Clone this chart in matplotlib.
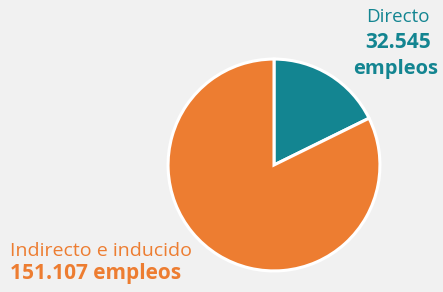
import matplotlib
matplotlib.use("Agg")
import matplotlib.pyplot as plt

categories = ["Directo", "Indirecto e inducido"]
values = [32545, 151107]
value_labels = ["32.545", "151.107"]
colors = ["#138591", "#ed7d31"]

W, H = 443, 292
fig = plt.figure(figsize=(W / 100, H / 100), dpi=100)
fig.patch.set_facecolor("#f1f1f1")

ax = fig.add_axes([167 / W, (H - 272) / H, 214 / W, 214 / H])
ax.pie(values, colors=colors, startangle=90, counterclock=False,
       wedgeprops=dict(edgecolor="white", linewidth=2.2))
ax.set_xlim(-1.01, 1.01)
ax.set_ylim(-1.01, 1.01)
ax.set_aspect("equal")
ax.set_axis_off()

fam = ["Open Sans", "DejaVu Sans"]

def px(x, y):
    return x / W, 1 - y / H

fig.text(*px(430, 17), categories[0], ha="right", va="center",
         fontsize=13.5, color=colors[0], family=fam)
fig.text(*px(431, 43), value_labels[0], ha="right", va="center",
         fontsize=15, fontweight="bold", color=colors[0], family=fam)
fig.text(*px(438, 69), "empleos", ha="right", va="center",
         fontsize=14.5, fontweight="bold", color=colors[0], family=fam)

fig.text(*px(10, 251), categories[1], ha="left", va="center",
         fontsize=14, color=colors[1], family=fam)
fig.text(*px(10, 274), value_labels[1] + " empleos", ha="left", va="center",
         fontsize=15, fontweight="bold", color=colors[1], family=fam)

fig.savefig("out.png", dpi=100, facecolor=fig.get_facecolor())
